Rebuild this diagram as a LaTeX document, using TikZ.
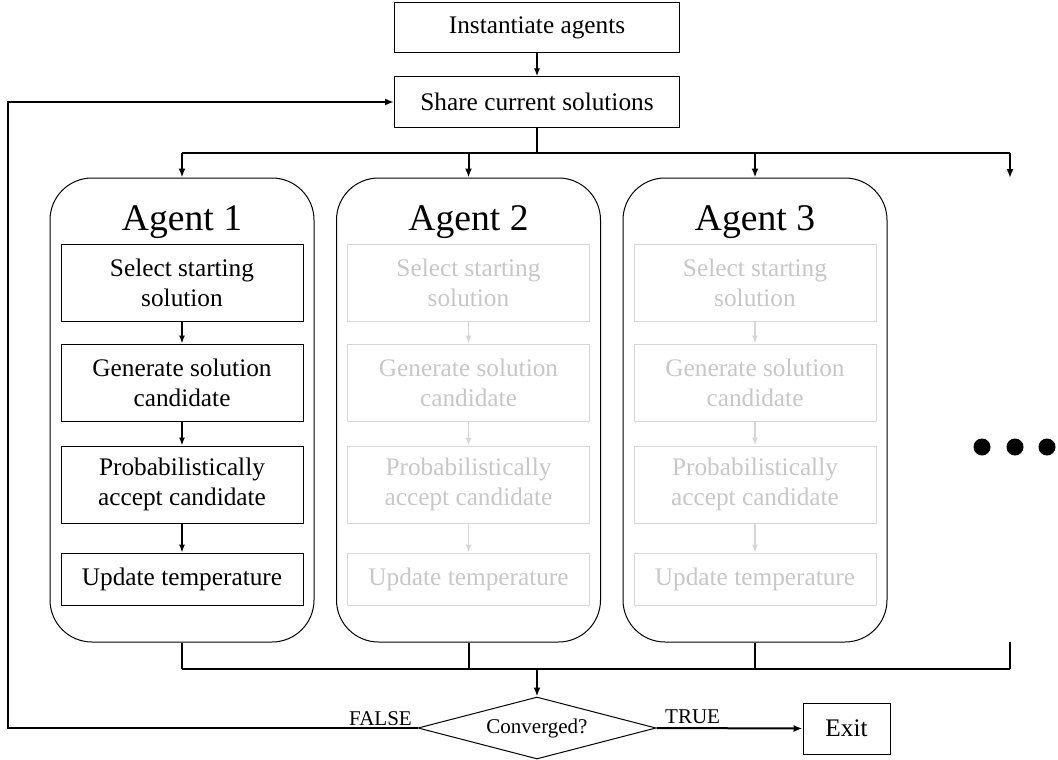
\documentclass[tikz,border=0pt]{standalone}
\usepackage{fontspec}
\setmainfont{Liberation Serif}
\usetikzlibrary{arrows.meta,shapes.geometric}
\definecolor{fadetext}{gray}{0.78}
\definecolor{fadeline}{gray}{0.84}
\newcommand\myBody{\fontsize{25.3}{30}\selectfont}
\newcommand\myTitle{\fontsize{37.6}{44}\selectfont}
\newcommand\mySmall{\fontsize{21}{25}\selectfont}
\begin{document}
\begin{tikzpicture}[x=1pt,y=-1pt,
  topbox/.style={draw, line width=1pt, minimum width=285pt, minimum height=50pt, inner sep=0pt, font=\myBody},
  stepbox/.style={draw, line width=1pt, minimum width=242pt, inner sep=0pt, align=center, font=\myBody},
  agentbox/.style={draw, rounded corners=42pt, line width=1pt, minimum width=264pt, minimum height=464pt, inner sep=0pt},
  conn/.style={line width=2pt},
  arr/.style={-{Latex[length=9pt,width=7pt]}},
  smallarr/.style={-{Latex[length=8pt,width=6pt]}, line width=1.4pt},
  dot/.style={circle, fill=black, inner sep=0pt, minimum size=17pt}]
\useasboundingbox (0,0) rectangle (1058,760);

\node[topbox] (inst) at (537,28) {Instantiate agents};
\node[topbox] (share) at (537,102) {Share current solutions};

\foreach \i/\x/\tc/\lc in {1/182/black/black, 2/468.5/fadetext/fadeline, 3/755/fadetext/fadeline} {
  \node[agentbox] (a\i) at (\x,410) {};
  \node[font=\myTitle, anchor=base, inner sep=0pt] (a\i-t) at (\x,230) {Agent \i};
  \node[stepbox, minimum height=77pt, draw=\lc, text=\tc] (a\i-1) at (\x,282.5) {Select starting\\solution};
  \node[stepbox, minimum height=77pt, draw=\lc, text=\tc] (a\i-2) at (\x,382.5) {Generate solution\\candidate};
  \node[stepbox, minimum height=77pt, draw=\lc, text=\tc] (a\i-3) at (\x,484.5) {Probabilistically\\accept candidate};
  \node[stepbox, minimum height=52pt, draw=\lc, text=\tc] (a\i-4) at (\x,579) {Update temperature};
  \draw[smallarr, draw=\lc] (a\i-1) -- (a\i-2);
  \draw[smallarr, draw=\lc] (a\i-2) -- (a\i-3);
  \draw[smallarr, draw=\lc] (a\i-3) -- (a\i-4);
}

\node[dot] (d1) at (982,447) {};
\node[dot] (d2) at (1015,447) {};
\node[dot] (d3) at (1047,447) {};

\node[draw, diamond, line width=1pt, inner sep=0pt, aspect=3.84, minimum width=238pt, minimum height=62pt, font=\mySmall] (conv) at (537,728) {Converged?};
\node[draw, line width=1pt, minimum width=87pt, minimum height=51pt, inner sep=0pt, font=\myBody] (exit) at (846.5,728.5) {Exit};

% top connectors
\draw[conn, smallarr, line width=1.6pt] (inst) -- (share);
\coordinate (b1) at (182,153);
\coordinate (b4) at (1010,153);
\coordinate (t4) at (1010,178);
\draw[conn] (share.south) -- (share.south |- b1);
\draw[conn] (b1) -- (b4);
\draw[conn, arr] (b1) -- (a1.north);
\draw[conn, arr] (a2.north |- b1) -- (a2.north);
\draw[conn, arr] (a3.north |- b1) -- (a3.north);
\draw[conn, arr] (b4) -- (t4);

% bottom connectors
\coordinate (c1) at (182,669);
\coordinate (c4) at (1010,669);
\coordinate (e4) at (1010,642);
\draw[conn] (a1.south) -- (c1);
\draw[conn] (a2.south) -- (a2.south |- c1);
\draw[conn] (a3.south) -- (a3.south |- c1);
\draw[conn] (e4) -- (c4);
\draw[conn] (c1) -- (c4);
\draw[conn, arr] (conv.north |- c1) -- (conv.north);

% loop back and exit
\coordinate (lp) at (8,728);
\draw[conn, arr] (conv.west) -- (lp) |- (share.west);
\draw[conn, arr] (conv.east) -- (exit.west);
\node[font=\mySmall, anchor=base east, inner sep=0pt] (fl) at (412,725) {FALSE};
\node[font=\mySmall, anchor=base west, inner sep=0pt] (tl) at (665,723) {TRUE};
\end{tikzpicture}
\end{document}
